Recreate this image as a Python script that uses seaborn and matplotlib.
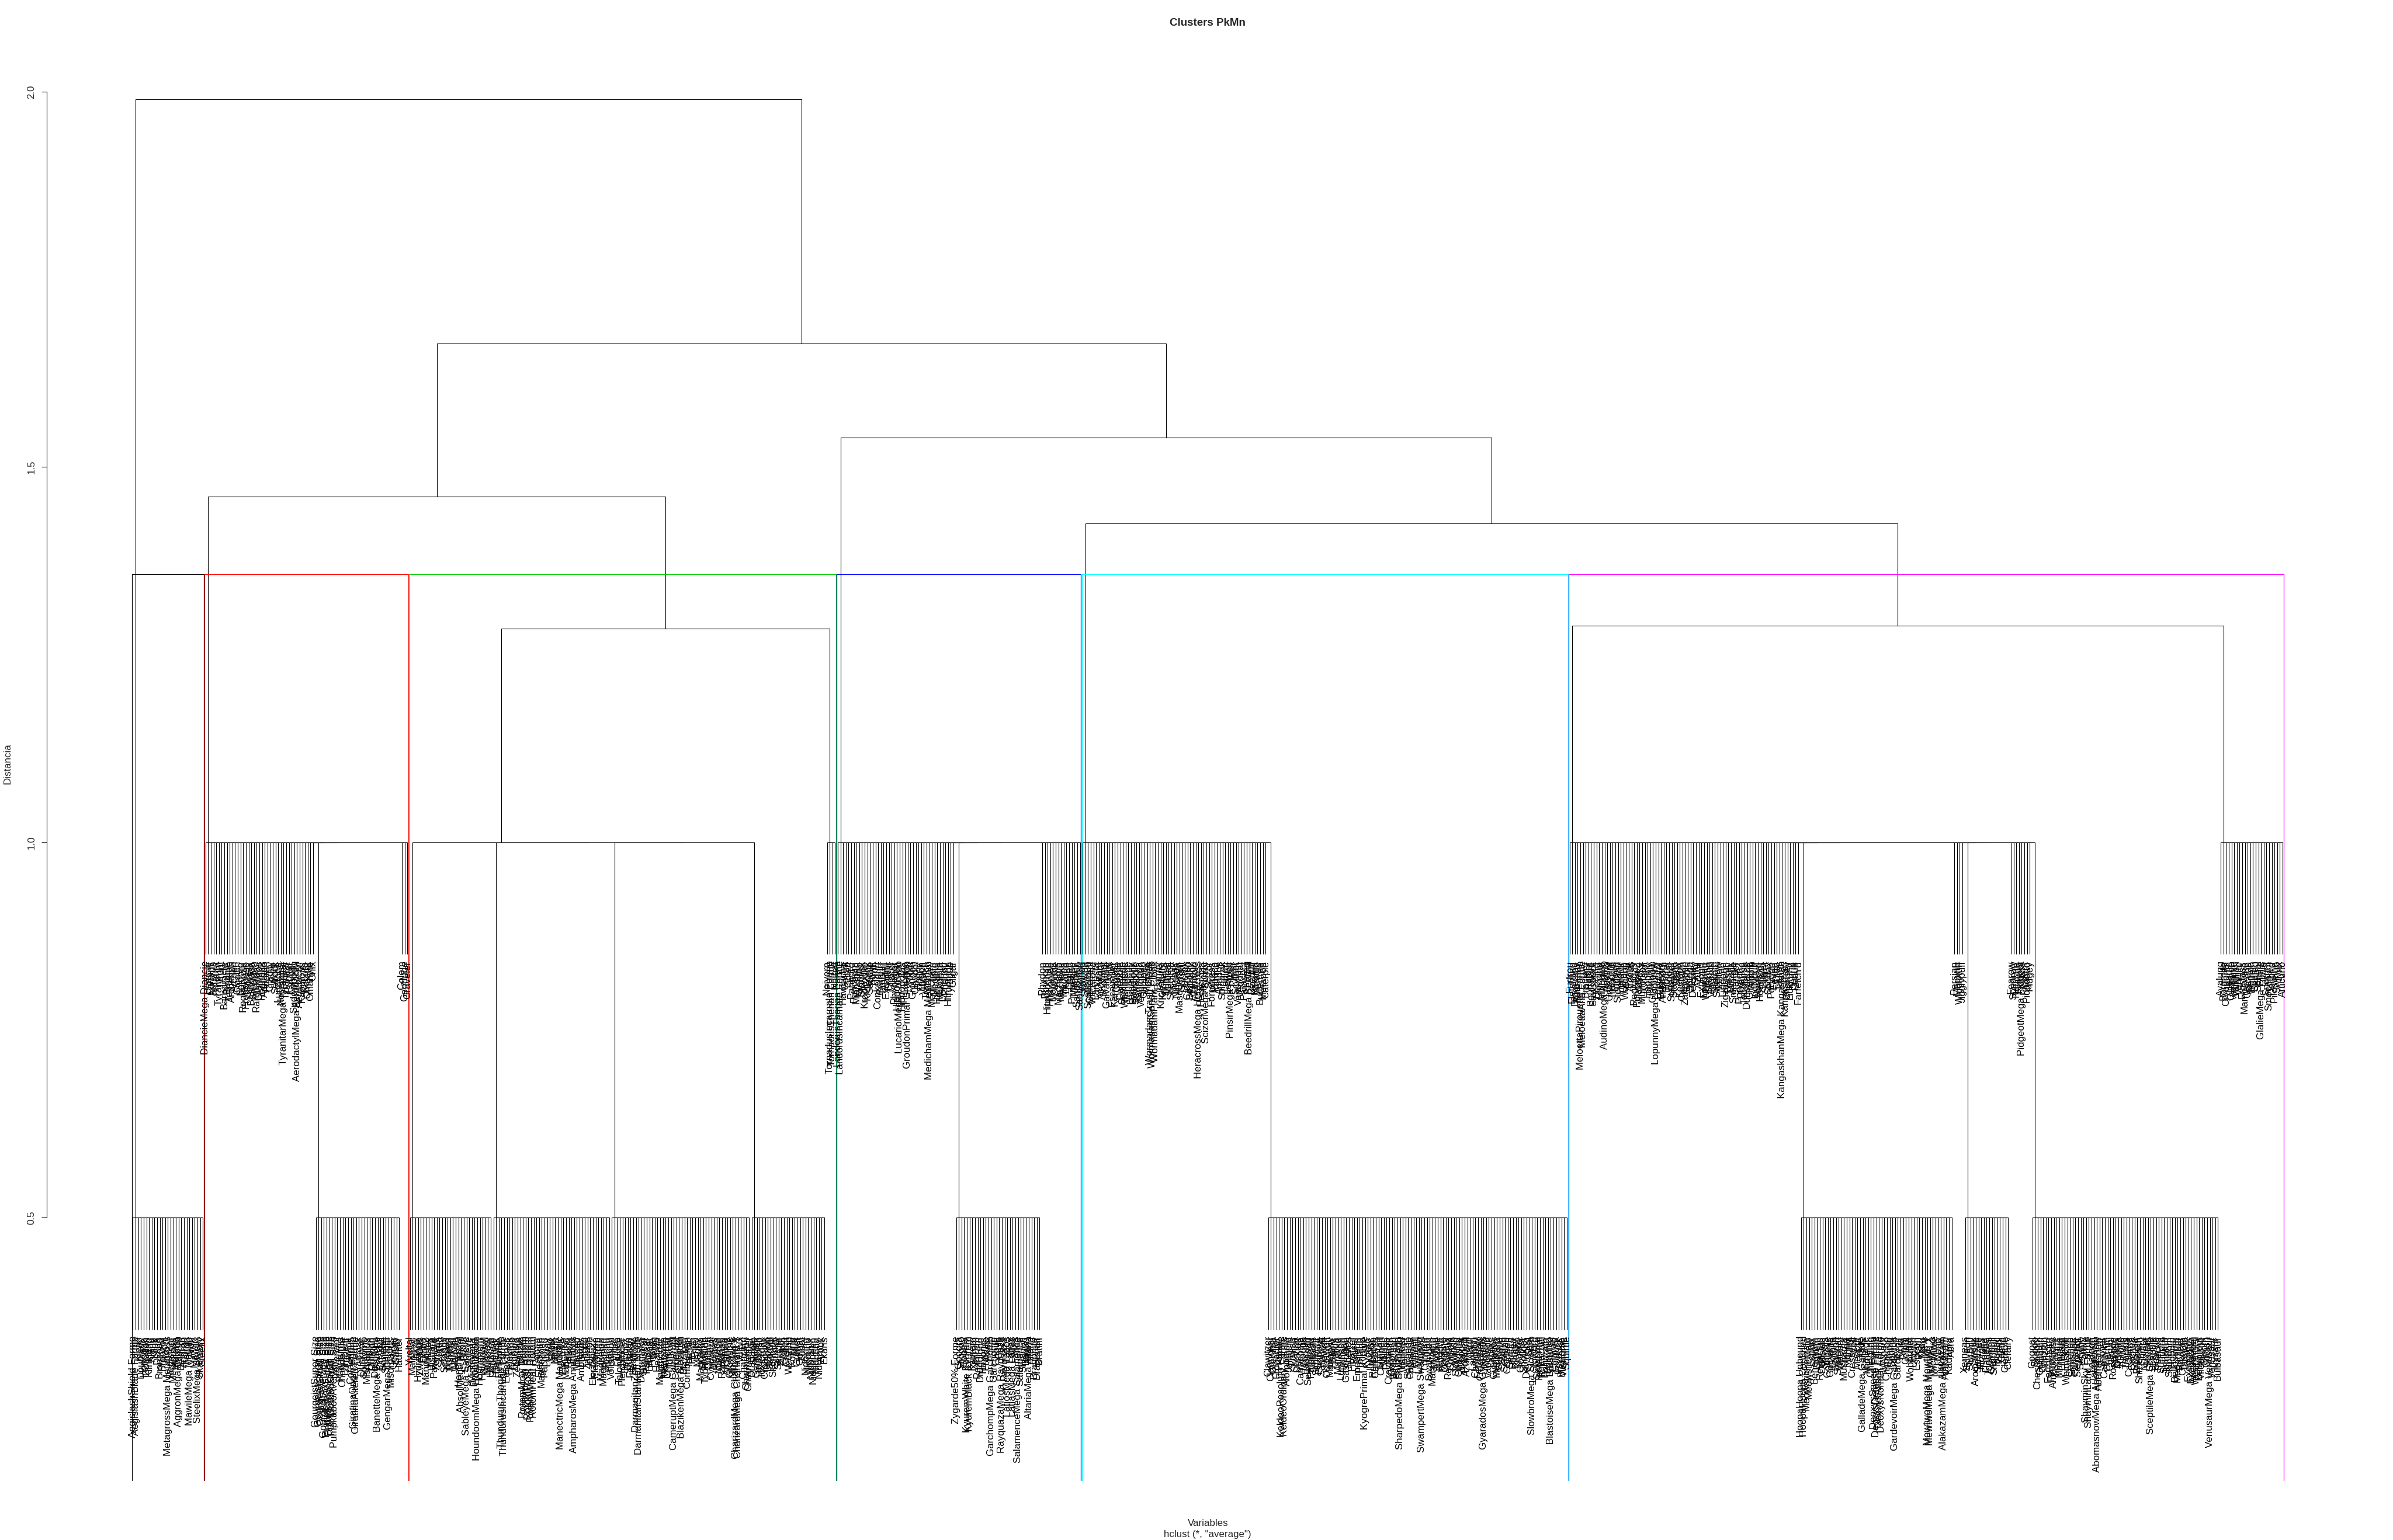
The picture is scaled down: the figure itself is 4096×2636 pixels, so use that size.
import seaborn as sns
from matplotlib import pyplot as plt
from matplotlib.collections import LineCollection

# leaf labels, left to right as they hang on the tree
STEEL = ["AegislashShield Forme", "AegislashBlade Forme", "Klefki", "Doublade", "Honedge", "Cobalion",
         "Klinklang", "Klang", "Klink", "Dialga", "Bronzong", "Bronzor", "Jirachi", "MetagrossMega Metagross",
         "Registeel", "Metagross", "Metang", "AggronMega Aggron", "Beldum", "Aggron", "Lairon",
         "MawileMega Mawile", "Aron", "Mawile", "SteelixMega Steelix", "Skarmory", "Steelix"]
ROCK_A = ["DiancieMega Diancie", "Diancie", "Carbink", "Aurorus", "Amaura", "Tyrantrum", "Tyrunt",
          "Barbaracle", "Binacle", "Terrakion", "Archeops", "Archen", "Gigalith", "Boldore", "Roggenrola",
          "Probopass", "Bonsly", "Bastiodon", "Shieldon", "Rampardos", "Cranidos", "Regirock", "Armaldo",
          "Anorith", "Cradily", "Lileep", "Solrock", "Lunatone", "Nosepass", "TyranitarMega Tyranitar",
          "Tyranitar", "Pupitar", "Larvitar", "Sudowoodo", "AerodactylMega Aerodactyl", "Aerodactyl",
          "Kabutops", "Kabuto", "Omastar", "Omanyte", "Onix"]
GHOST = ["GourgeistSuper Size", "GourgeistLarge Size", "GourgeistSmall Size", "GourgeistAverage Size",
         "PumpkabooSuper Size", "PumpkabooLarge Size", "PumpkabooSmall Size", "PumpkabooAverage Size",
         "Trevenant", "Phantump", "Chandelure", "Lampent", "Litwick", "Cofagrigus", "GiratinaOrigin Forme",
         "GiratinaAltered Forme", "Yamask", "Dusknoir", "Spiritomb", "Mismagius", "Drifblim", "Drifloon",
         "Dusclops", "BanetteMega Banette", "Duskull", "Banette", "Shuppet", "GengarMega Gengar",
         "Misdreavus", "Gengar", "Gastly", "Haunter"]
ROCK_B = ["Golem", "Geodude", "Graveler"]
DARK = ["Yveltal", "Malamar", "Inkay", "Hydreigon", "Zweilous", "Deino", "Mandibuzz", "Vullaby", "Bisharp",
        "Pawniard", "Zoroark", "Zorua", "Scrafty", "Scraggy", "Liepard", "Purrloin", "Darkrai", "Weavile",
        "Honchkrow", "AbsolMega Absol", "Absol", "SableyeMega Sableye", "Sableye", "Mightyena", "Poochyena",
        "HoundoomMega Houndoom", "Houndoom", "Houndour", "Sneasel", "Murkrow", "Umbreon"]
ELECTRIC = ["Dedenne", "Heliolisk", "Helioptile", "ThundurusTherian Forme", "ThundurusIncarnate Forme",
            "Eelektross", "Eelektrik", "Tynamo", "Emolga", "Zebstrika", "Blitzle", "RotomMow Rotom",
            "RotomFan Rotom", "RotomFrost Rotom", "RotomWash Rotom", "RotomHeat Rotom", "Rotom", "Electivire",
            "Magnezone", "Pachirisu", "Luxray", "Luxio", "Shinx", "Minun", "Plusle", "ManectricMega Manectric",
            "Electrike", "Manectric", "Raikou", "Elekid", "AmpharosMega Ampharos", "Mareep", "Flaaffy",
            "Ampharos", "Pichu", "Zapdos", "Jolteon", "Electabuzz", "Electrode", "Voltorb", "Magneton",
            "Magnemite", "Raichu", "Pikachu"]
FIRE = ["Volcanion", "Pyroar", "Litleo", "Talonflame", "Fletchinder", "Delphox", "Braixen", "Fennekin",
        "Heatmor", "DarmanitanZen Mode", "DarmanitanStandard Mode", "Darumaka", "Simisear", "Pansear",
        "Emboar", "Pignite", "Tepig", "Heatran", "Magmortar", "Infernape", "Monferno", "Chimchar", "Torkoal",
        "CameruptMega Camerupt", "Camerupt", "Numel", "BlazikenMega Blaziken", "Blaziken", "Combusken",
        "Torchic", "Ho-oh", "Entei", "Magby", "Magcargo", "Slugma", "Typhlosion", "Quilava", "Cyndaquil",
        "Moltres", "Flareon", "Magmar", "Rapidash", "Ponyta", "Arcanine", "Growlithe", "Ninetales",
        "CharizardMega Charizard X", "CharizardMega Charizard Y", "Vulpix", "Charizard", "Charmeleon",
        "Charmander"]
POISON = ["Dragalge", "Skrelp", "Garbodor", "Trubbish", "Toxicroak", "Croagunk", "Drapion", "Skorupi",
          "Skuntank", "Stunky", "Seviper", "Swalot", "Gulpin", "Crobat", "Weezing", "Koffing", "Muk", "Grimer",
          "Golbat", "Zubat", "Nidoking", "Nidorino", "Nidoran♂", "Nidoqueen", "Nidorina", "Nidoran♀", "Arbok",
          "Ekans"]
FLYING = ["Noivern", "TornadusIncarnate Forme", "TornadusTherian Forme", "Noibat"]
FIGHT_GROUND_A = ["LandorusTherian Forme", "LandorusIncarnate Forme", "Hawlucha", "Golurk", "Golett", "Pangoro",
                  "Pancham", "Mienshao", "Mienfoo", "Stunfisk", "Krookodile", "Krokorok", "Sandile", "Sawk",
                  "Throh", "Conkeldurr", "Gurdurr", "Timburr", "Excadrill", "Drilbur", "Gliscor", "Rhyperior",
                  "Hippowdon", "LucarioMega Lucario", "Hippopotas", "Lucario", "GroudonPrimal Groudon", "Riolu",
                  "Groudon", "Claydol", "Baltoy", "Flygon", "Vibrava", "Trapinch", "MedichamMega Medicham",
                  "Medicham", "Meditite", "Hariyama", "Makuhita", "Donphan", "Phanpy", "Hitmontop", "Tyrogue",
                  "Gligar"]
DRAGON = ["Zygarde50% Forme", "Goodra", "Sliggoo", "Goomy", "KyuremWhite Kyurem", "KyuremBlack Kyurem", "Kyurem",
          "Zekrom", "Reshiram", "Druddigon", "Haxorus", "Fraxure", "Axew", "GarchompMega Garchomp", "Garchomp",
          "Gabite", "Gible", "RayquazaMega Rayquaza", "Rayquaza", "LatiosMega Latios", "Latios",
          "LatiasMega Latias", "Latias", "SalamenceMega Salamence", "Salamence", "Shelgon", "Bagon",
          "AltariaMega Altaria", "Altaria", "Dragonite", "Dragonair", "Dratini"]
FIGHT_GROUND_B = ["Rhydon", "Rhyhorn", "Hitmonchan", "Hitmonlee", "Marowak", "Cubone", "Machamp", "Machoke",
                  "Machop", "Dugtrio", "Diglett", "Primeape", "Mankey", "Sandslash", "Sandshrew"]
BUG = ["Vivillon", "Spewpa", "Scatterbug", "Genesect", "Volcarona", "Larvesta", "Durant", "Accelgor", "Shelmet",
       "Galvantula", "Joltik", "Escavalier", "Karrablast", "Crustle", "Dwebble", "Scolipede", "Whirlipede",
       "Venipede", "Leavanny", "Swadloon", "Sewaddle", "Yanmega", "Vespiquen", "Combee", "Mothim",
       "WormadamTrash Cloak", "WormadamSandy Cloak", "WormadamPlant Cloak", "Burmy", "Kricketune", "Kricketot",
       "Illumise", "Volbeat", "Shedinja", "Ninjask", "Nincada", "Masquerain", "Surskit", "Dustox", "Cascoon",
       "Beautifly", "Silcoon", "Wurmple", "HeracrossMega Heracross", "Heracross", "Shuckle",
       "ScizorMega Scizor", "Scizor", "Forretress", "Pineco", "Yanma", "Ariados", "Spinarak", "Ledian",
       "Ledyba", "PinsirMega Pinsir", "Pinsir", "Scyther", "Venomoth", "Venonat", "Parasect", "Paras",
       "BeedrillMega Beedrill", "Beedrill", "Kakuna", "Weedle", "Butterfree", "Metapod", "Caterpie"]
WATER = ["Clawitzer", "Clauncher", "Greninja", "Frogadier", "Froakie", "KeldeoResolute Forme",
         "KeldeoOrdinary Forme", "Alomomola", "Jellicent", "Frillish", "Swanna", "Ducklett", "Carracosta",
         "Tirtouga", "Basculin", "Seismitoad", "Palpitoad", "Tympole", "Simipour", "Panpour", "Samurott",
         "Dewott", "Oshawott", "Manaphy", "Phione", "Palkia", "Mantyke", "Lumineon", "Finneon", "Gastrodon",
         "Shellos", "Floatzel", "Buizel", "Empoleon", "Prinplup", "Piplup", "KyogrePrimal Kyogre", "Kyogre",
         "Luvdisc", "Relicanth", "Gorebyss", "Huntail", "Clamperl", "Milotic", "Feebas", "Crawdaunt",
         "Corphish", "Whiscash", "Barboach", "SharpedoMega Sharpedo", "Wailord", "Wailmer", "Sharpedo",
         "Carvanha", "Pelipper", "Wingull", "Ludicolo", "SwampertMega Swampert", "Lombre", "Lotad", "Swampert",
         "Marshtomp", "Mudkip", "Suicune", "Kingdra", "Mantine", "Octillery", "Remoraid", "Corsola", "Qwilfish",
         "Slowking", "Quagsire", "Wooper", "Politoed", "Azumarill", "Marill", "Lanturn", "Chinchou",
         "Feraligatr", "Croconaw", "GyaradosMega Gyarados", "Totodile", "Vaporeon", "Lapras", "Gyarados",
         "Magikarp", "Starmie", "Staryu", "Seaking", "Goldeen", "Seadra", "Horsea", "Kingler", "Krabby",
         "Cloyster", "Shellder", "Dewgong", "Seel", "SlowbroMega Slowbro", "Slowbro", "Slowpoke", "Tentacruel",
         "Tentacool", "Poliwrath", "Poliwhirl", "BlastoiseMega Blastoise", "Poliwag", "Golduck", "Psyduck",
         "Blastoise", "Wartortle", "Squirtle"]
NORMAL_A = ["Furfrou", "Fletchling", "Diggersby", "Bunnelby", "MeloettaPirouette Forme", "MeloettaAria Forme",
            "Braviary", "Rufflet", "Bouffalant", "Sawsbuck", "Deerling", "Cinccino", "Minccino",
            "AudinoMega Audino", "Audino", "Unfezant", "Tranquill", "Pidove", "Stoutland", "Herdier", "Lillipup",
            "Watchog", "Patrat", "Arceus", "Regigigas", "Porygon-Z", "Lickilicky", "Munchlax", "Chatot",
            "Happiny", "Purugly", "Glameow", "LopunnyMega Lopunny", "Lopunny", "Buneary", "Ambipom", "Bibarel",
            "Bidoof", "Staraptor", "Staravia", "Starly", "Kecleon", "Castform", "Zangoose", "Swablu", "Spinda",
            "Delcatty", "Skitty", "Azurill", "Exploud", "Loudred", "Whismur", "Slaking", "Vigoroth", "Slakoth",
            "Swellow", "Taillow", "Linoone", "Zigzagoon", "Blissey", "Miltank", "Smeargle", "Stantler",
            "Porygon2", "Ursaring", "Teddiursa", "Dunsparce", "Girafarig", "Aipom", "Igglybuff", "Noctowl",
            "Hoothoot", "Furret", "Sentret", "Snorlax", "Porygon", "Eevee", "Ditto", "Tauros",
            "KangaskhanMega Kangaskhan", "Kangaskhan", "Chansey", "Lickitung", "Dodrio", "Doduo", "Farfetch'd"]
PSYCHIC = ["HoopaHoopa Unbound", "HoopaHoopa Confined", "MeowsticFemale", "MeowsticMale", "Espurr", "Beheeyem",
           "Elgyem", "Reuniclus", "Duosion", "Solosis", "Gothitelle", "Gothorita", "Gothita", "Sigilyph",
           "Swoobat", "Woobat", "Musharna", "Munna", "Victini", "Cresselia", "Azelf", "Mesprit", "Uxie",
           "GalladeMega Gallade", "Gallade", "Mime Jr.", "Chingling", "DeoxysSpeed Forme", "DeoxysDefense Forme",
           "DeoxysAttack Forme", "DeoxysNormal Forme", "Wynaut", "Chimecho", "Grumpig", "Spoink",
           "GardevoirMega Gardevoir", "Gardevoir", "Kirlia", "Ralts", "Celebi", "Lugia", "Wobbuffet", "Unown",
           "Espeon", "Xatu", "Natu", "Mew", "MewtwoMega Mewtwo Y", "MewtwoMega Mewtwo X", "Mewtwo", "Mr. Mime",
           "Hypno", "Drowzee", "AlakazamMega Alakazam", "Alakazam", "Kadabra", "Abra"]
NORMAL_B = ["Persian", "Meowth", "Wigglytuff", "Jigglypuff"]
FAIRY = ["Xerneas", "Sylveon", "Slurpuff", "Swirlix", "Aromatisse", "Spritzee", "Florges", "Floette", "Flabébé",
         "Togekiss", "Granbull", "Snubbull", "Togetic", "Togepi", "Cleffa", "Clefable", "Clefairy"]
NORMAL_C = ["Fearow", "Spearow", "Raticate", "Rattata", "PidgeotMega Pidgeot", "Pidgeot", "Pidgeotto", "Pidgey"]
GRASS = ["Gogoat", "Skiddo", "Chesnaught", "Quilladin", "Chespin", "Virizion", "Ferrothorn", "Ferroseed",
         "Amoonguss", "Foongus", "Maractus", "Lilligant", "Petilil", "Whimsicott", "Cottonee", "Simisage",
         "Pansage", "Serperior", "Servine", "Snivy", "ShayminSky Forme", "ShayminLand Forme", "Leafeon",
         "Tangrowth", "AbomasnowMega Abomasnow", "Abomasnow", "Snover", "Carnivine", "Cherrim", "Cherubi",
         "Roserade", "Budew", "Torterra", "Grotle", "Turtwig", "Tropius", "Cacturne", "Cacnea", "Roselia",
         "Breloom", "Shroomish", "Shiftry", "Nuzleaf", "Seedot", "SceptileMega Sceptile", "Sceptile", "Grovyle",
         "Treecko", "Sunflora", "Sunkern", "Jumpluff", "Skiploom", "Hoppip", "Bellossom", "Meganium", "Bayleef",
         "Chikorita", "Tangela", "Exeggutor", "Exeggcute", "Victreebel", "Weepinbell", "Bellsprout", "Vileplume",
         "Gloom", "Oddish", "VenusaurMega Venusaur", "Venusaur", "Ivysaur", "Bulbasaur"]
ICE = ["Avalugg", "Bergmite", "Cryogonal", "Beartic", "Cubchoo", "Vanilluxe", "Vanillish", "Vanillite",
       "Froslass", "Mamoswine", "Glaceon", "Regice", "Walrein", "Sealeo", "Spheal", "GlalieMega Glalie",
       "Glalie", "Snorunt", "Smoochum", "Delibird", "Piloswine", "Swinub", "Jynx", "Articuno"]

# merge heights
TIE_LOW = 0.5
TIE_HIGH = 1.0
H_GREEN = 1.285
H_MAGENTA = 1.289
H_CYAN_MAGENTA = 1.425
H_ROCK_GREEN = 1.461
H_BLUE_REST = 1.539
H_UPPER = 1.665
H_ROOT = 1.99

K_CLUSTERS = 6
RECT_COLORS = ["black", "#FF0000", "#00CD00", "#0000FF", "#00FFFF", "#FF00FF"]


def comb(h, items):
    # tied merges: R chains them from the right
    node = items[-1]
    for it in reversed(items[:-1]):
        node = (h, it, node)
    return node


steel = comb(TIE_LOW, STEEL)
red = comb(TIE_HIGH, ROCK_A + [comb(TIE_LOW, GHOST)] + ROCK_B)
green = (H_GREEN,
         comb(TIE_HIGH, [comb(TIE_LOW, g) for g in (DARK, ELECTRIC, FIRE, POISON)]),
         comb(TIE_HIGH, FLYING))
blue = comb(TIE_HIGH, FIGHT_GROUND_A + [comb(TIE_LOW, DRAGON)] + FIGHT_GROUND_B)
cyan = comb(TIE_HIGH, BUG + [comb(TIE_LOW, WATER)])
magenta = (H_MAGENTA,
           comb(TIE_HIGH, NORMAL_A + [comb(TIE_LOW, PSYCHIC)] + NORMAL_B + [comb(TIE_LOW, FAIRY)]
                + NORMAL_C + [comb(TIE_LOW, GRASS)]),
           comb(TIE_HIGH, ICE))
tree = (H_ROOT, steel,
        (H_UPPER, (H_ROCK_GREEN, red, green),
         (H_BLUE_REST, blue, (H_CYAN_MAGENTA, cyan, magenta))))


def heights(node):
    if isinstance(node, str):
        return []
    return [node[0]] + heights(node[1]) + heights(node[2])


all_h = sorted(heights(tree), reverse=True)
hang = 0.1 * (max(all_h) - min(all_h))

leaves, leaf_y, segments = [], [], []


def place(node, parent_h):
    if isinstance(node, str):
        leaves.append(node)
        leaf_y.append(parent_h - hang)
        return len(leaves), parent_h - hang
    h, left, right = node
    xl, yl = place(left, h)
    xr, yr = place(right, h)
    segments.append([(xl, yl), (xl, h), (xr, h), (xr, yr)])
    return (xl + xr) / 2, h


place(tree, H_ROOT)
n = len(leaves)


def n_leaves(node):
    return 1 if isinstance(node, str) else n_leaves(node[1]) + n_leaves(node[2])


cut = (all_h[K_CLUSTERS - 2] + all_h[K_CLUSTERS - 1]) / 2
groups = []


def find_clusters(node, start):
    if isinstance(node, str) or node[0] < cut:
        groups.append((start, start + n_leaves(node) - 1))
        return
    find_clusters(node[1], start)
    find_clusters(node[2], start + n_leaves(node[1]))


find_clusters(tree, 1)

# ---- figure ----
sns.set_theme(style="white")
plt.rcParams["font.family"] = ["Liberation Sans", "DejaVu Sans"]

W, H = 4096, 2636
fig = plt.figure(figsize=(W / 100, H / 100), dpi=100)
fig.patch.set_facecolor("white")

# plot region in pixels (R plot.hclust style margins)
px_left, px_right = 80.3, 4054.2
px_top, px_bottom = 80.0, 2534.0
ax = fig.add_axes([px_left / W, 1 - px_bottom / H, (px_right - px_left) / W, (px_bottom - px_top) / H])
ax.set_facecolor("white")

ylo = 0.15
ax.set_xlim(1 - 0.04 * (n - 1), n + 0.04 * (n - 1))
ax.set_ylim(ylo, 2.06)

ax.add_collection(LineCollection(segments, colors="black", linewidths=0.8))

for i, (name, y) in enumerate(zip(leaves, leaf_y), start=1):
    ax.annotate(name, (i, y), xytext=(0, -8), textcoords="offset points", rotation=90,
                ha="center", va="top", fontsize=12.2, color="black", annotation_clip=False)

for (a, b), col in zip(groups, RECT_COLORS):
    ax.plot([a - 0.34, a - 0.34, b + 0.33, b + 0.33], [ylo, cut, cut, ylo], color=col, lw=0.9,
            clip_on=False)

sns.despine(ax=ax, top=True, right=True, bottom=True, left=False)
ax.spines["left"].set_bounds(0.5, 2.0)
ax.spines["left"].set_linewidth(0.8)
ax.spines["left"].set_color("black")
ax.set_xticks([])
ax.set_yticks([0.5, 1.0, 1.5, 2.0])
ax.set_yticklabels(["0.5", "1.0", "1.5", "2.0"], rotation=90, va="center", fontsize=12.2)
ax.tick_params(axis="y", length=6.7, width=0.8, pad=7, color="black", left=True)
ax.grid(False)

cx = (px_left + px_right) / 2 / W
fig.text(cx, 1 - 40 / H, "Clusters PkMn", ha="center", va="center", fontsize=13.5, fontweight="bold")
fig.text(cx, 1 - 2607 / H, "Variables", ha="center", va="center", fontsize=12.2)
fig.text(cx, 1 - 2627 / H, 'hclust (*, "average")', ha="center", va="center", fontsize=12.2)
fig.text(13 / W, 1 - ((px_top + px_bottom) / 2) / H, "Distancia", ha="center", va="center",
         rotation=90, fontsize=12.2)

fig.savefig("out.png", dpi=100, facecolor="white")
